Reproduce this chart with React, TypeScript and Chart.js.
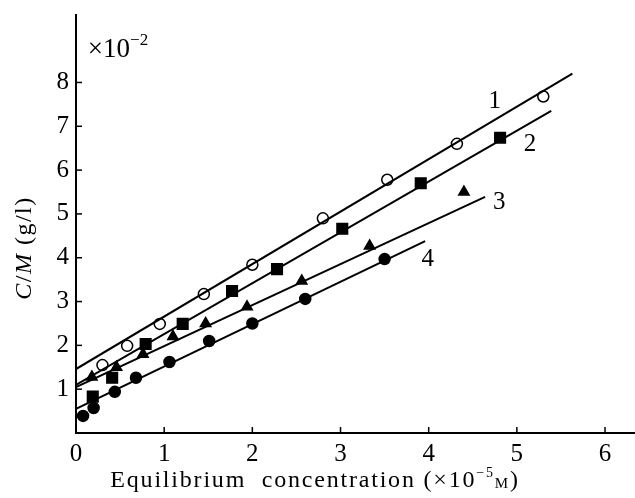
import React, { useEffect, useRef } from "react";
import { Chart, registerables } from "chart.js";

Chart.register(...registerables);

// Data (C/M in units of 1e-2 g/l vs equilibrium concentration in 1e-5 M)
const series1X = [0.30, 0.58, 0.95, 1.45, 2.0, 2.8, 3.53, 4.32, 5.3];
const series1Y = [1.55, 1.99, 2.49, 3.17, 3.84, 4.9, 5.78, 6.6, 7.68];
const series2X = [0.19, 0.41, 0.79, 1.21, 1.77, 2.28, 3.02, 3.91, 4.81];
const series2Y = [0.83, 1.26, 2.03, 2.49, 3.24, 3.74, 4.66, 5.7, 6.74];
const series3X = [0.18, 0.46, 0.76, 1.1, 1.47, 1.94, 2.56, 3.33, 4.4];
const series3Y = [1.28, 1.5, 1.8, 2.2, 2.5, 2.88, 3.47, 4.27, 5.5];
const series4X = [0.08, 0.2, 0.44, 0.68, 1.06, 1.51, 2.0, 2.6, 3.5];
const series4Y = [0.39, 0.57, 0.94, 1.26, 1.62, 2.1, 2.5, 3.06, 3.97];

// Fitted lines: [x0, y0, x1, y1]
const fit1 = [0, 1.46, 5.63, 8.2];
const fit2 = [0, 1.1, 5.39, 7.35];
const fit3 = [0, 1.05, 4.64, 5.39];
const fit4 = [0, 0.55, 3.96, 4.38];

const lineLabels = ["1", "2", "3", "4"];
const labelX = [4.75, 5.15, 4.8, 3.99];
const labelY = [7.56, 6.58, 5.27, 3.95];

const xTicks = [0, 1, 2, 3, 4, 5, 6];
const yTicks = [1, 2, 3, 4, 5, 6, 7, 8];

const SERIF = "'Liberation Serif', 'DejaVu Serif', serif";

const toPts = (xs: number[], ys: number[]) => xs.map((x, i) => ({ x, y: ys[i] }));
const fitPts = (f: number[]) => [
  { x: f[0], y: f[1] },
  { x: f[2], y: f[3] },
];

type Run = { text: string; font: string; dy?: number };

function drawRuns(ctx: CanvasRenderingContext2D, runs: Run[], cx: number, cy: number, spacing: number) {
  ctx.save();
  (ctx as any).letterSpacing = spacing + "px";
  let total = 0;
  const widths = runs.map((r) => {
    ctx.font = r.font;
    const w = ctx.measureText(r.text).width;
    total += w;
    return w;
  });
  let x = cx - total / 2;
  ctx.textAlign = "left";
  ctx.textBaseline = "middle";
  runs.forEach((r, i) => {
    ctx.font = r.font;
    ctx.fillText(r.text, x, cy + (r.dy || 0));
    x += widths[i];
  });
  ctx.restore();
}

const decorPlugin = {
  id: "decor",
  afterDraw(chart: any) {
    const ctx: CanvasRenderingContext2D = chart.ctx;
    const xs = chart.scales.x;
    const ys = chart.scales.y;
    const area = chart.chartArea;
    ctx.save();
    ctx.strokeStyle = "#000";
    ctx.fillStyle = "#000";
    ctx.lineWidth = 1.5;
    // inward ticks
    yTicks.forEach((v) => {
      const py = ys.getPixelForValue(v);
      ctx.beginPath();
      ctx.moveTo(area.left, py);
      ctx.lineTo(area.left + 6, py);
      ctx.stroke();
    });
    xTicks.forEach((v) => {
      if (v === 0) return;
      const px = xs.getPixelForValue(v);
      ctx.beginPath();
      ctx.moveTo(px, area.bottom);
      ctx.lineTo(px, area.bottom - 6);
      ctx.stroke();
    });
    // line labels
    ctx.font = `25px ${SERIF}`;
    ctx.textAlign = "center";
    ctx.textBaseline = "middle";
    lineLabels.forEach((t, i) => {
      ctx.fillText(t, xs.getPixelForValue(labelX[i]), ys.getPixelForValue(labelY[i]));
    });
    ctx.restore();

    // multiplier
    drawRuns(
      ctx,
      [
        { text: "×10", font: `27px ${SERIF}` },
        { text: "−2", font: `17px ${SERIF}`, dy: -9 },
      ],
      area.left + 42,
      50,
      0
    );

    // x title
    drawRuns(
      ctx,
      [
        { text: "Equilibrium  concentration (×10", font: `24px ${SERIF}` },
        { text: "−5", font: `14px ${SERIF}`, dy: -8 },
        { text: "M", font: `15px ${SERIF}`, dy: 3 },
        { text: ")", font: `24px ${SERIF}` },
      ],
      315,
      481,
      1.8
    );

    // y title (rotated)
    ctx.save();
    ctx.translate(25, 248);
    ctx.rotate(-Math.PI / 2);
    drawRuns(
      ctx,
      [
        { text: "C", font: `italic 24px ${SERIF}` },
        { text: "/", font: `24px ${SERIF}` },
        { text: "M", font: `italic 24px ${SERIF}` },
        { text: " (g/l)", font: `24px ${SERIF}` },
      ],
      0,
      0,
      1.5
    );
    ctx.restore();
  },
};

export default function App() {
  const ref = useRef<HTMLCanvasElement | null>(null);
  useEffect(() => {
    document.body.style.margin = "0";
    const canvas = ref.current!;
    const pointCommon = {
      showLine: false,
      borderColor: "#000",
      borderWidth: 1.5,
    };
    const lineCommon = {
      showLine: true,
      borderColor: "#000",
      borderWidth: 2,
      pointRadius: 0,
      fill: false,
    };
    const chart = new Chart(canvas, {
      type: "scatter",
      data: {
        datasets: [
          { ...lineCommon, data: fitPts(fit1) },
          { ...lineCommon, data: fitPts(fit2) },
          { ...lineCommon, data: fitPts(fit3) },
          { ...lineCommon, data: fitPts(fit4) },
          {
            ...pointCommon,
            data: toPts(series1X, series1Y),
            pointStyle: "circle",
            pointRadius: 5.5,
            backgroundColor: "#fff",
          },
          {
            ...pointCommon,
            data: toPts(series2X, series2Y),
            pointStyle: "rect",
            pointRadius: 7.5,
            backgroundColor: "#000",
          },
          {
            ...pointCommon,
            data: toPts(series3X, series3Y),
            pointStyle: "triangle",
            pointRadius: 6,
            backgroundColor: "#000",
          },
          {
            ...pointCommon,
            data: toPts(series4X, series4Y),
            pointStyle: "circle",
            pointRadius: 5.5,
            backgroundColor: "#000",
          },
        ],
      },
      options: {
        responsive: false,
        animation: false,
        layout: { autoPadding: false, padding: { top: 15, right: 0, left: 0, bottom: 0 } },
        plugins: { legend: { display: false }, tooltip: { enabled: false } },
        scales: {
          x: {
            type: "linear",
            min: 0,
            max: 6.34,
            afterFit: (s: any) => {
              s.height = 65;
              s.paddingLeft = 0;
              s.paddingRight = 0;
            },
            afterBuildTicks: (s: any) => {
              s.ticks = xTicks.map((v) => ({ value: v }));
            },
            grid: { display: false, drawTicks: false },
            border: { display: true, color: "#000", width: 2 },
            ticks: {
              color: "#000",
              padding: 6,
              font: { family: SERIF, size: 25 },
              maxRotation: 0,
              autoSkip: false,
            },
          },
          y: {
            type: "linear",
            min: 0,
            max: 9.54,
            afterFit: (s: any) => {
              s.width = 76;
              s.paddingTop = 0;
              s.paddingBottom = 0;
            },
            afterBuildTicks: (s: any) => {
              s.ticks = yTicks.map((v) => ({ value: v }));
            },
            grid: { display: false, drawTicks: false },
            border: { display: true, color: "#000", width: 2 },
            ticks: {
              color: "#000",
              padding: 7,
              font: { family: SERIF, size: 25 },
              autoSkip: false,
            },
          },
        },
      },
      plugins: [decorPlugin],
    } as any);
    return () => chart.destroy();
  }, []);
  return (
    <div style={{ width: 635, height: 498, background: "#fff" }}>
      <canvas ref={ref} width={635} height={498} />
    </div>
  );
}
